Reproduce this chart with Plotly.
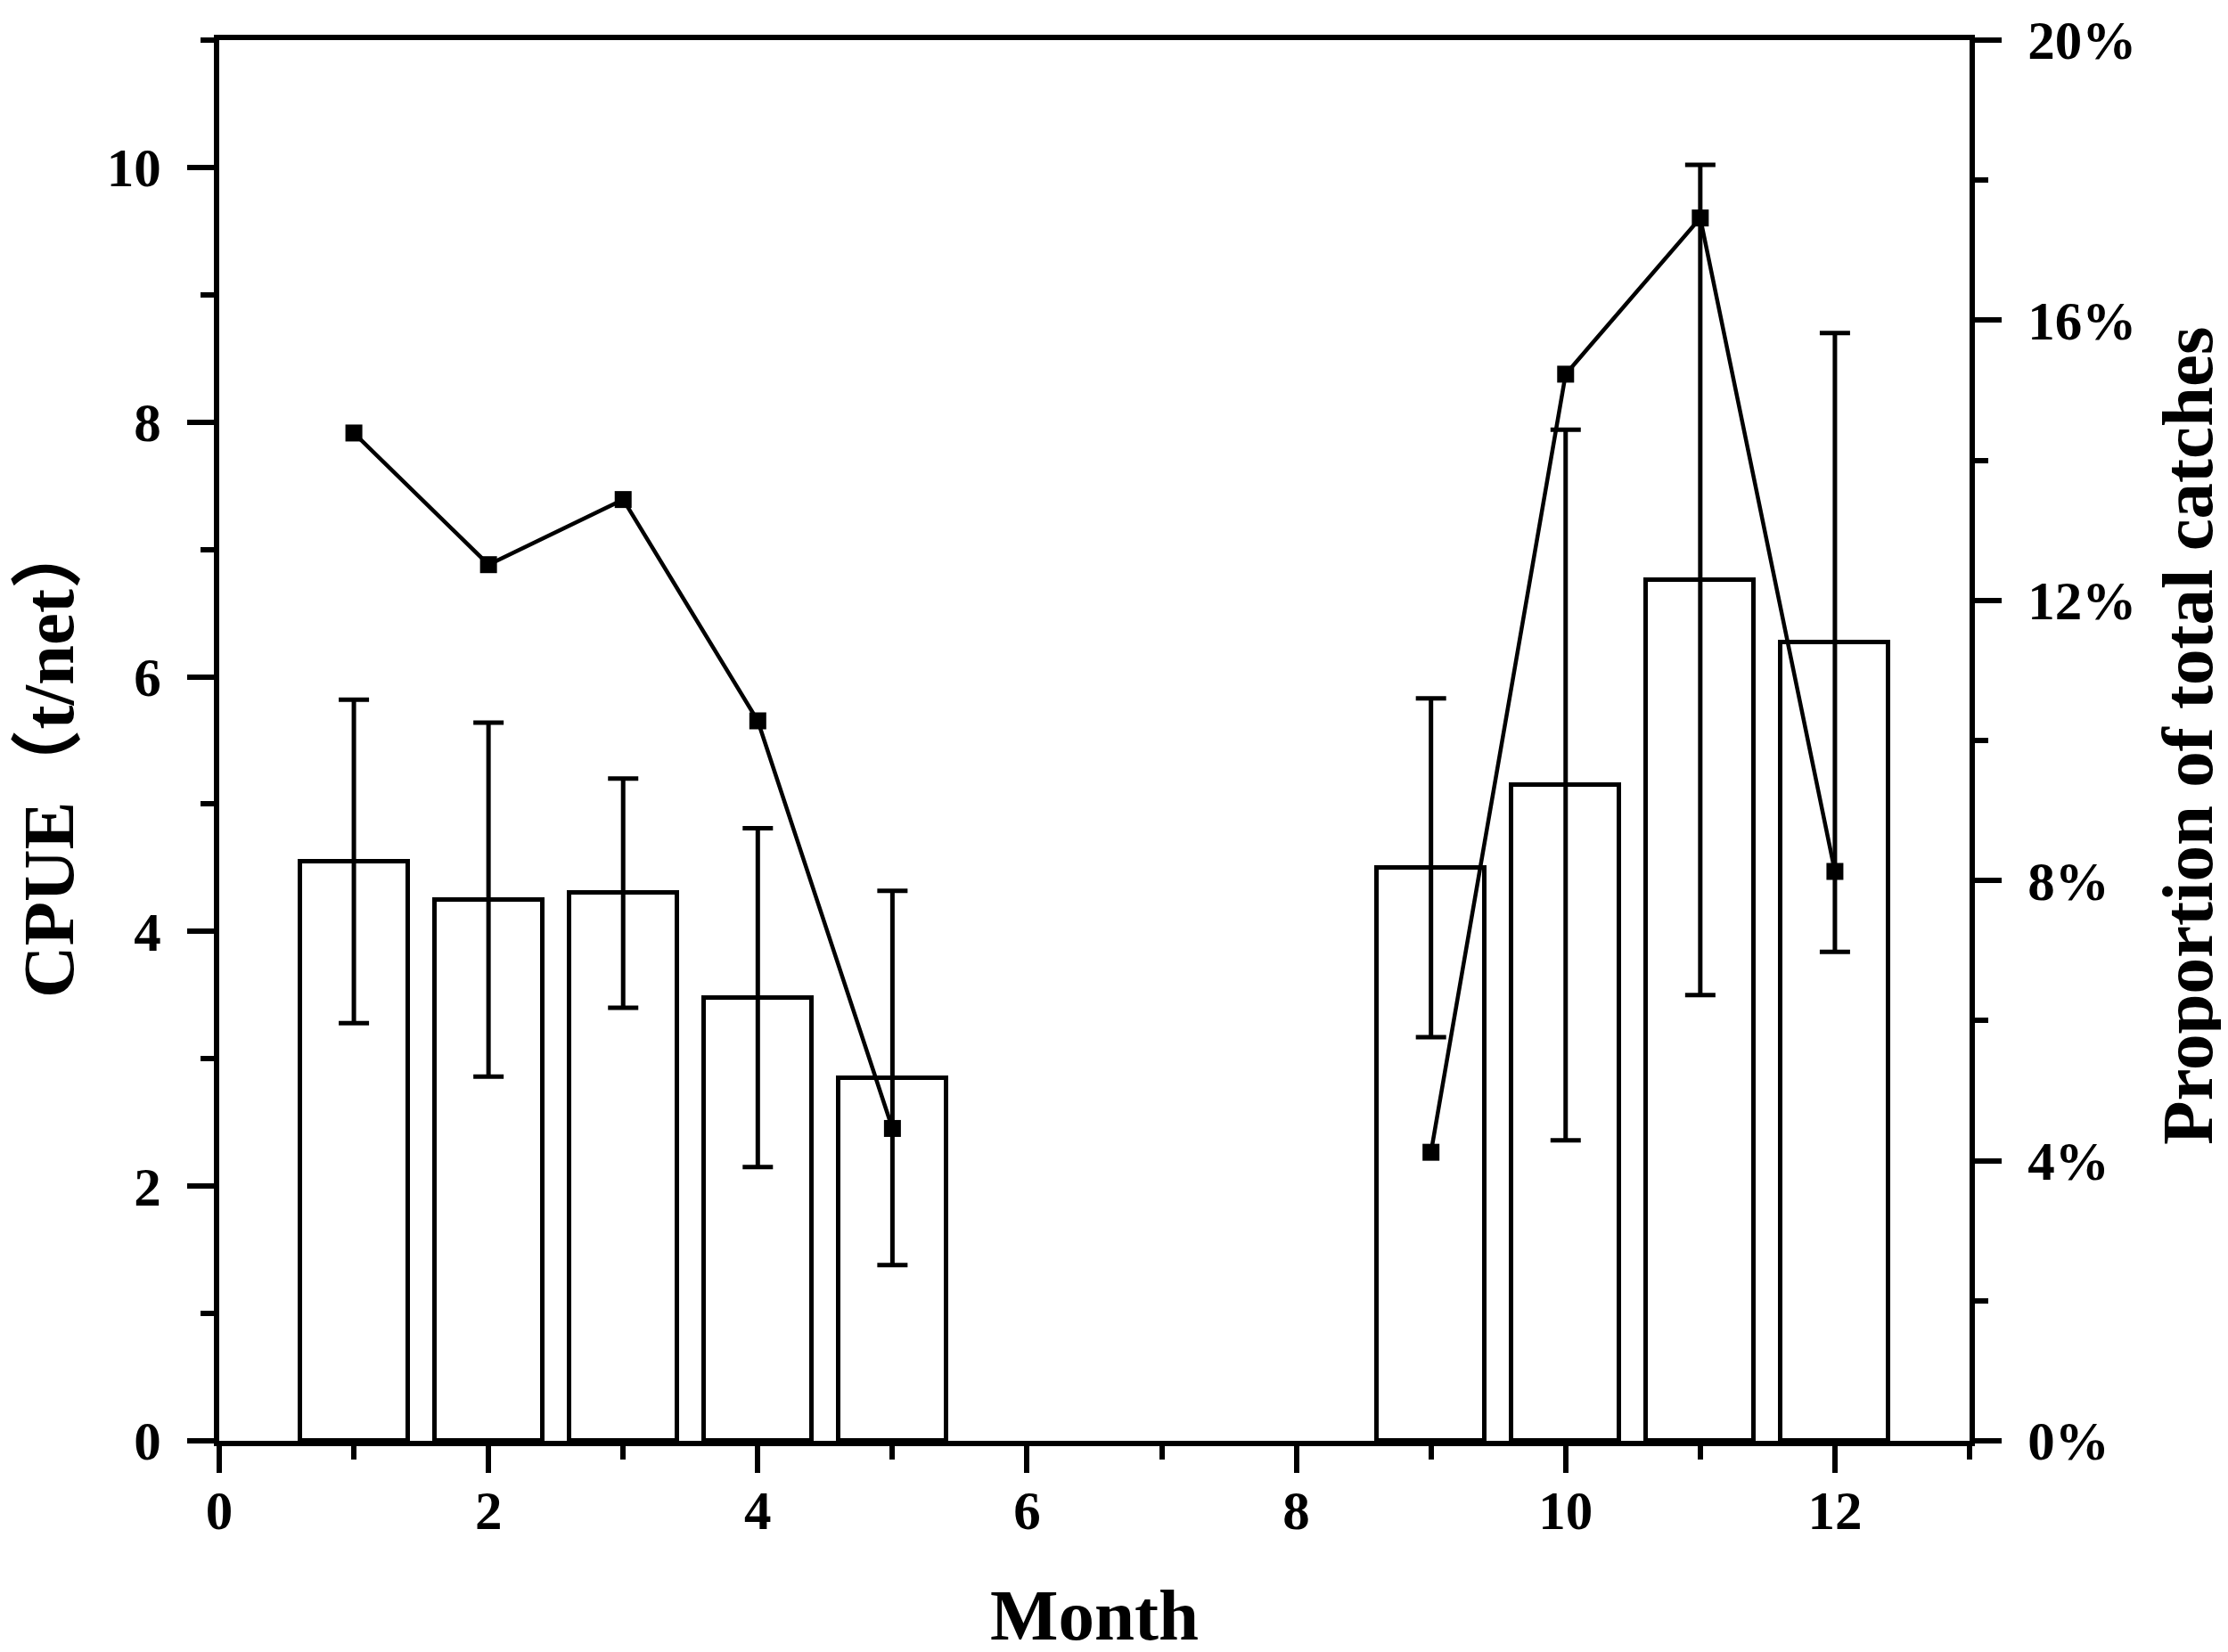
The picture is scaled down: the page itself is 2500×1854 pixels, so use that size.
import plotly.graph_objects as go

months = [1, 2, 3, 4, 5, 6, 7, 8, 9, 10, 11, 12]
cpue = [4.55, 4.25, 4.30, 3.48, 2.85, None, None, None, 4.50, 5.15, 6.76, 6.27]
cpue_sd = [1.27, 1.39, 0.90, 1.33, 1.47, None, None, None, 1.33, 2.79, 3.26, 2.43]
proportion = [14.39, 12.51, 13.44, 10.28, 4.46, None, None, None, 4.12, 15.23, 17.46, 8.13]

x_ticks = [0, 2, 4, 6, 8, 10, 12]
y_ticks = [0, 2, 4, 6, 8, 10]
y2_ticks = [0, 4, 8, 12, 16, 20]
y2_labels = [f"{v}%" for v in y2_ticks]

W, H = 2500, 1854
L, T = 238, 37
pw, ph = 1964, 1572
R, B = W - L - pw, H - T - ph


def px_x(x):
    return (x - L) / pw


def px_y(y):
    return (T + ph - y) / ph


FONT = "Liberation Serif, Noto Sans CJK SC"
tickfont = dict(family=FONT, size=61, color="black", weight="bold")
titlefont = dict(family=FONT, size=81, color="black", weight="bold")
LW = 6
minor_common = dict(ticks="outside", ticklen=15, tickwidth=LW, tickcolor="black")

fig = go.Figure()
fig.add_trace(go.Bar(
    x=months, y=cpue, width=0.8,
    marker=dict(color="white", line=dict(color="black", width=5)),
    error_y=dict(type="data", array=cpue_sd, visible=True, color="black", thickness=5, width=17),
    showlegend=False,
))
fig.add_trace(go.Scatter(
    x=months, y=proportion, yaxis="y2", mode="lines+markers",
    line=dict(color="black", width=4.5),
    marker=dict(symbol="square", size=19, color="black"),
    connectgaps=False, showlegend=False,
))

axis_common = dict(showgrid=False, zeroline=False, showline=True, linecolor="black",
                   linewidth=LW, ticks="outside", ticklen=30, tickwidth=LW, tickcolor="black",
                   tickfont=tickfont, ticklabeloverflow="allow", automargin=False)

fig.update_layout(
    width=W, height=H,
    margin=dict(l=L, r=R, t=T, b=B, pad=0, autoexpand=False),
    plot_bgcolor="white", paper_bgcolor="white",
    bargap=0,
    xaxis=dict(range=[0, 13], tickvals=x_ticks, mirror=True,
               minor=dict(dtick=1, tick0=0, **minor_common),
               ticklabelstandoff=-10, **axis_common),
    yaxis=dict(range=[0, 11], tickvals=y_ticks,
               minor=dict(dtick=1, tick0=0, **minor_common),
               ticklabelstandoff=17, **axis_common),
    yaxis2=dict(range=[0, 20], tickvals=y2_ticks, ticktext=y2_labels, overlaying="y", side="right",
                minor=dict(dtick=2, tick0=0, **minor_common),
                ticklabelstandoff=17, **axis_common),
    annotations=[
        dict(text="Month", xref="paper", yref="paper", x=px_x(1220), y=px_y(1805),
             xanchor="center", yanchor="middle", showarrow=False, font=titlefont),
        dict(text="CPUE（t/net）", xref="paper", yref="paper", x=px_x(47), y=px_y(842),
             xanchor="center", yanchor="middle", textangle=-90, showarrow=False, font=titlefont),
        dict(text="Proportion of total catches", xref="paper", yref="paper", x=px_x(2447), y=px_y(818),
             xanchor="center", yanchor="middle", textangle=-90, showarrow=False, font=titlefont),
    ],
)

fig.write_html("out.html")
